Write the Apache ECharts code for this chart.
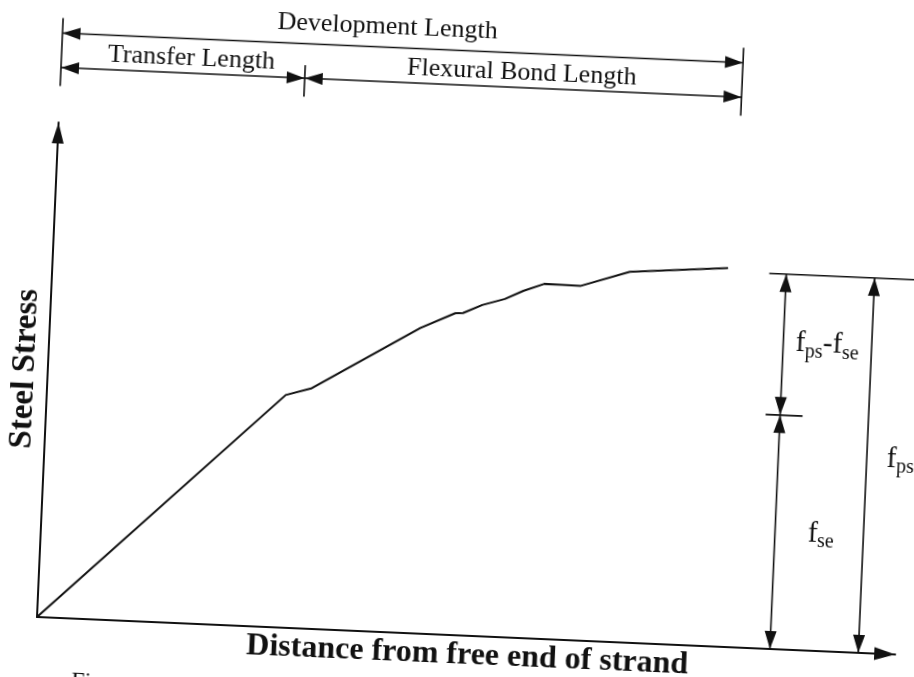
<!DOCTYPE html>
<html><head><meta charset="utf-8">
<script src="https://cdn.jsdelivr.net/npm/echarts@6/dist/echarts.min.js"></script>
<style>
html,body{margin:0;padding:0;background:#fff;overflow:hidden;width:914px;height:677px;}
#chart{position:absolute;left:0;top:0;width:914px;height:677px;transform:rotate(2.5deg);transform-origin:37px 617px;background:#fff;}
</style></head><body><div id="chart"></div>
<script>
// ---- data (arbitrary units) ----
const distance    = [0, 27.8, 30.8, 43.1, 47.1, 48.0, 50.2, 52.8, 54.9, 57.3, 61.5, 67.2, 78.6];
const steelStress = [0, 47.0, 48.6, 61.7, 65.0, 65.1, 66.9, 68.3, 70.1, 71.7, 71.6, 74.9, 76.5];
const transferLength = 28.4;
const developmentLength = 79.3;
const fse = 47.3;
const fps = 75.8;
const lengthLabels = ['Transfer Length', 'Flexural Bond Length', 'Development Length'];
const stressLabels = ['f_ps-f_se', 'f_se', 'f_ps'];
const xTitle = 'Distance from free end of strand';
const yTitle = 'Steel Stress';
const captionText = 'Fi';

// ---- layout / style ----
const INK = '#111';
const SERIF = '"Liberation Serif", "DejaVu Serif", serif';
const LAYOUT = {
  rowLowerAbove: 55, rowUpperAbove: 89.5,   // px above top of y axis
  extBelow: 18.5, extOuterAbove: 15, extMidAbove: 13,
  arrowAx: 85.4, arrowBx: 95.7,            // x-axis units for the stress arrows
  head: [18, 6]
};

const pairs = distance.map((d, i) => [d, steelStress[i]]);

function renderAnnotations(params, api) {
  const P = (x, y) => api.coord([x, y]);
  const kids = [];
  function seg(a, b, w) {
    kids.push({type: 'line', shape: {x1: a[0], y1: a[1], x2: b[0], y2: b[1]},
      style: {stroke: INK, lineWidth: w || 1.6}});
  }
  function head(tip, from) {
    const dx = tip[0] - from[0], dy = tip[1] - from[1];
    const len = Math.hypot(dx, dy), ux = dx / len, uy = dy / len;
    const L = LAYOUT.head[0], W = LAYOUT.head[1];
    const bx = tip[0] - ux * L, by = tip[1] - uy * L;
    kids.push({type: 'polygon', shape: {points: [[tip[0], tip[1]], [bx - uy * W, by + ux * W], [bx + uy * W, by - ux * W]]},
      style: {fill: INK}});
  }
  function dim(a, b) { seg(a, b); head(a, b); head(b, a); }
  function text(str, x, y, opts) {
    kids.push({type: 'text', x: x, y: y, style: Object.assign({text: str, fill: INK,
      font: '26px ' + SERIF, align: 'center', verticalAlign: 'middle'}, opts || {})});
  }

  const origin = P(0, 0);
  const topY = P(0, 100)[1];
  const x0 = origin[0];
  const xT = P(transferLength, 0)[0];
  const xD = P(developmentLength, 0)[0];
  const yL = topY - LAYOUT.rowLowerAbove;
  const yU = topY - LAYOUT.rowUpperAbove;

  // extension lines
  seg([x0, yL + LAYOUT.extBelow], [x0, yU - LAYOUT.extOuterAbove]);
  seg([xD, yL + LAYOUT.extBelow], [xD, yU - LAYOUT.extOuterAbove]);
  seg([xT, yL + LAYOUT.extBelow], [xT, yL - LAYOUT.extMidAbove]);
  // dimension arrows
  dim([x0, yU], [xD, yU]);
  dim([x0, yL], [xT, yL]);
  dim([xT, yL], [xD, yL]);
  text(lengthLabels[2], (x0 + xD) / 2 - 16, yU - 20);
  text(lengthLabels[0], (x0 + xT) / 2 + 8, yL - 15);
  text(lengthLabels[1], (xT + xD) / 2 - 2, yL - 15);

  // stress dimensions on the right
  const yPs = P(0, fps)[1], ySe = P(0, fse)[1], y0 = origin[1];
  const ax = P(LAYOUT.arrowAx, 0)[0], bx = P(LAYOUT.arrowBx, 0)[0];
  seg([ax - 17, yPs], [ax + 260, yPs]);
  seg([ax - 14.5, ySe], [ax + 22.5, ySe]);
  dim([ax, yPs], [ax, ySe]);
  dim([ax, ySe], [ax, y0]);
  dim([bx, yPs], [bx, y0]);

  const rich = {
    f: {font: '29px ' + SERIF, fill: INK, lineHeight: 32, verticalAlign: 'top'},
    s: {font: '20px ' + SERIF, fill: INK, lineHeight: 20, verticalAlign: 'bottom', padding: [17, 0, 0, 0]}
  };
  function fLabel(str) {
    const parts = str.split('-').map(p => { const q = p.split('_'); return '{f|f}{s|' + q[1] + '}'; });
    return parts.join('{f|-}');
  }
  text(fLabel(stressLabels[0]), ax + 44, (yPs + ySe) / 2, {rich: rich});
  text(fLabel(stressLabels[1]), ax + 46, (ySe + y0) / 2 + 2, {rich: rich});
  text(fLabel(stressLabels[2]), bx + 20, (yPs + y0) / 2 - 6, {rich: rich, align: 'left'});

  // clipped caption fragment at bottom
  text(captionText, x0 + 37, y0 + 51, {align: 'left', verticalAlign: 'top', font: '24px ' + SERIF});

  return {type: 'group', children: kids};
}

const chart = echarts.init(document.getElementById('chart'), null, {renderer: 'canvas'});
chart.setOption({
  backgroundColor: '#fff',
  animation: false,
  grid: {left: 37, right: 18, top: 122, bottom: 60, containLabel: false, outerBoundsMode: 'none'},
  xAxis: {
    type: 'value', min: 0, max: 100,
    axisLine: {show: true, onZero: true, symbol: ['none', 'triangle'], symbolSize: [13, 21], symbolOffset: [0, -10.5],
      lineStyle: {color: INK, width: 2}},
    axisTick: {show: false}, axisLabel: {show: false}, splitLine: {show: false},
    name: xTitle, nameLocation: 'middle', nameGap: 4,
    nameTextStyle: {fontFamily: SERIF, fontWeight: 'bold', fontSize: 32, color: INK, verticalAlign: 'top', padding: [0, 0, 0, 4]}
  },
  yAxis: {
    type: 'value', min: 0, max: 100,
    axisLine: {show: true, onZero: true, symbol: ['none', 'triangle'], symbolSize: [12, 21], symbolOffset: [0, -10.5],
      lineStyle: {color: INK, width: 2}},
    axisTick: {show: false}, axisLabel: {show: false}, splitLine: {show: false},
    name: yTitle, nameLocation: 'middle', nameGap: 6, nameRotate: 90,
    nameTextStyle: {fontFamily: SERIF, fontWeight: 'bold', fontSize: 33, color: INK}
  },
  series: [
    {type: 'line', data: pairs, showSymbol: false, symbol: 'none', lineStyle: {color: INK, width: 2}, clip: false},
    {type: 'custom', renderItem: renderAnnotations, data: [[0, 0]], clip: false, silent: true}
  ]
});
</script></body></html>
